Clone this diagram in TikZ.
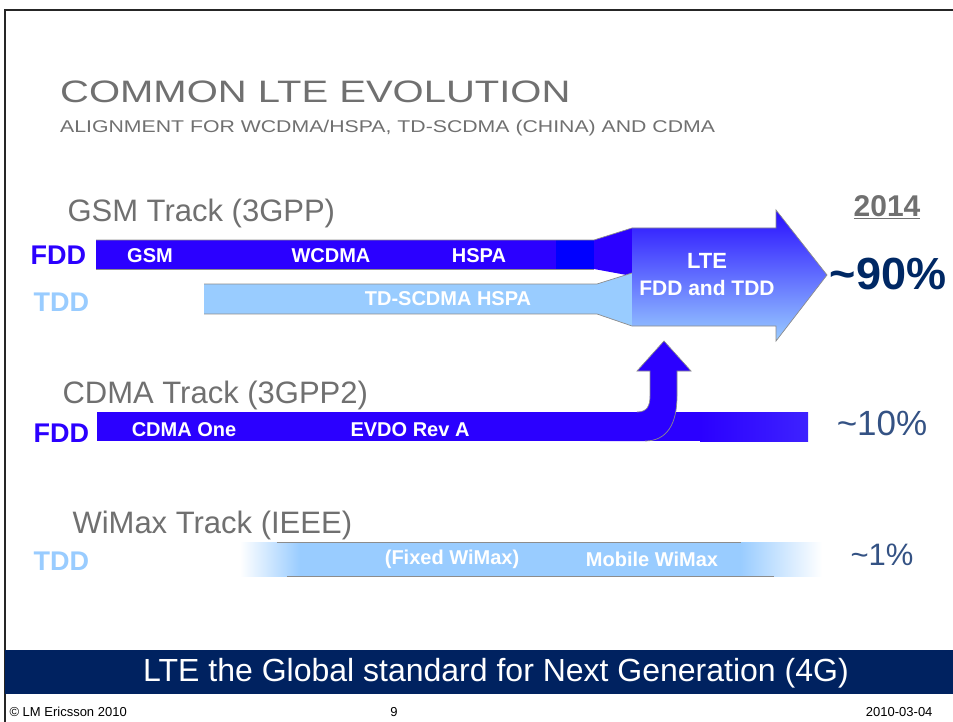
\documentclass[tikz,border=0pt]{standalone}
\usepackage{fontspec}
\setmainfont{Liberation Sans}
\usepackage{graphicx}

\definecolor{fddblue}{RGB}{43,0,255}
\definecolor{pureblue}{RGB}{0,0,255}
\definecolor{cdmaend}{RGB}{62,34,255}
\definecolor{tddblue}{RGB}{153,204,255}
\definecolor{ltetop}{RGB}{40,14,255}
\definecolor{navyband}{RGB}{0,34,96}
\definecolor{pctnavy}{RGB}{0,40,100}
\definecolor{pctslate}{RGB}{52,82,132}
\definecolor{txtgray}{RGB}{112,112,112}
\definecolor{edgegray}{RGB}{140,140,140}

\begin{document}
\begin{tikzpicture}[
  x=1pt, y=-1pt,
  track/.style={anchor=base west, text=txtgray, font=\fontsize{31}{31}\selectfont},
  mode/.style={anchor=base west, font=\fontsize{27}{27}\selectfont\bfseries},
  barlabel/.style={text=white, font=\fontsize{20}{20}\selectfont\bfseries},
  share/.style={text=pctslate, font=\fontsize{35}{35}\selectfont},
  edgeline/.style={draw=edgegray, line width=0.7pt},
  foot/.style={anchor=base, font=\fontsize{13}{13}\selectfont}
]
  \useasboundingbox (0,0) rectangle (953,722);

  % Rahmen
  \draw[line width=2pt, black!85] (953,10) -- (5,10) -- (5,722);

  % Titel
  \node[anchor=base west, text=txtgray, inner sep=0pt] (title) at (60,103)
    {\scalebox{1.29}[1]{\fontsize{31}{31}\selectfont COMMON LTE EVOLUTION}};
  \node[anchor=base west, text=txtgray, inner sep=0pt] (subtitle) at (60,133)
    {\scalebox{1.25}[1]{\fontsize{17}{17}\selectfont ALIGNMENT FOR WCDMA/HSPA, TD-SCDMA (CHINA) AND CDMA}};

  % GSM Track
  \node[track] (gsmtrack) at (64,222) {GSM Track (3GPP)};
  \node[mode, text=fddblue] (fdd1) at (27,265) {FDD};
  \node[mode, text=tddblue] (tdd1) at (30,311) {TDD};
  \fill[fddblue] (96,240) rectangle (556,269);
  \fill[pureblue] (556,240) rectangle (594,269);
  \fill[fddblue] (594,240) -- (632,228) -- (632,276) -- (594,269) -- cycle;
  \draw[edgeline] (96,240) -- (594,240) -- (632,228);
  \draw[edgeline] (96,269) -- (594,269);
  \fill[tddblue] (204,284) rectangle (597,314);
  \fill[tddblue] (597,284) -- (632,273) -- (632,326) -- (597,314) -- cycle;
  \draw[edgeline] (204,284) -- (597,284) -- (632,273);
  \draw[edgeline] (204,314) -- (597,314) -- (632,326);

  \node[barlabel] (gsm) at (150,256) {GSM};
  \node[barlabel] (wcdma) at (331,256) {WCDMA};
  \node[barlabel] (hspa) at (479,256) {HSPA};
  \node[barlabel] (tdscdma) at (448,299) {TD-SCDMA HSPA};

  % LTE Pfeil
  \shade[top color=ltetop, bottom color=tddblue]
    (632,228) -- (776,228) -- (776,210) -- (827,275) -- (776,341) -- (776,326) -- (632,326) -- cycle;
  \draw[edgeline] (632,228) -- (776,228) -- (776,210) -- (827,275) -- (776,341) -- (776,326) -- (632,326);
  \node[barlabel, font=\fontsize{22}{22}\selectfont\bfseries] (lte) at (707,261) {LTE};
  \node[barlabel, font=\fontsize{21}{21}\selectfont\bfseries] (ltemode) at (707,288) {FDD and TDD};

  \node[anchor=base, text=txtgray, font=\fontsize{30}{30}\selectfont\bfseries] (year) at (887,217) {\underline{2014}};
  \node[text=pctnavy, font=\fontsize{45}{45}\selectfont\bfseries] (p90) at (888,274) {\textasciitilde 90\%};

  % CDMA Track
  \node[track] (cdmatrack) at (59,403) {CDMA Track (3GPP2)};
  \node[mode, text=fddblue] (fdd2) at (30,442) {FDD};
  \fill[fddblue] (97,412) rectangle (700,441);
  \shade[left color=fddblue, right color=cdmaend] (700,412) rectangle (808,441);
  \fill[fddblue] (600,412) -- (637,412) .. controls (647,412) and (650,406) .. (650,396)
    -- (650,371) -- (637,371) -- (664,341) -- (691,371) -- (677,371) -- (677,396)
    .. controls (677,424) and (667,441) .. (645,441) -- (600,441) -- cycle;
  \draw[edgeline] (637,412) .. controls (647,412) and (650,406) .. (650,396)
    -- (650,371) -- (637,371) -- (664,341) -- (691,371) -- (677,371) -- (677,396)
    .. controls (677,424) and (667,441) .. (645,441);
  \node[barlabel] (cdmaone) at (184,430) {CDMA One};
  \node[barlabel] (evdo) at (410,430) {EVDO Rev A};
  \node[share] (p10) at (882,423) {\textasciitilde 10\%};

  % WiMax Track
  \node[track] (wimaxtrack) at (69,533) {WiMax Track (IEEE)};
  \node[mode, text=tddblue] (tdd2) at (30,570) {TDD};
  \shade[left color=white, right color=tddblue] (240,542) rectangle (300,576);
  \fill[tddblue] (300,542) rectangle (740,576);
  \shade[left color=tddblue, right color=white] (740,542) rectangle (822,576);
  \draw[edgeline] (277,542) -- (741,542);
  \draw[edgeline] (287,576) -- (774,576);
  \node[barlabel] (fixed) at (452,559) {(Fixed WiMax)};
  \node[barlabel] (mobile) at (652,559) {Mobile WiMax};
  \node[share, font=\fontsize{31}{31}\selectfont] (p1) at (882,555) {\textasciitilde 1\%};

  % Fusszeile
  \fill[navyband] (5,650) rectangle (953,694);
  \node[text=white, font=\fontsize{32}{32}\selectfont] (slogan) at (496,673) {LTE the Global standard for Next Generation (4G)};
  \node[foot, anchor=base west] (copy) at (6,716) {\textcopyright\ LM Ericsson 2010};
  \node[foot] (page) at (394,716) {9};
  \node[foot, anchor=base east] (date) at (936,716) {2010-03-04};
\end{tikzpicture}
\end{document}
